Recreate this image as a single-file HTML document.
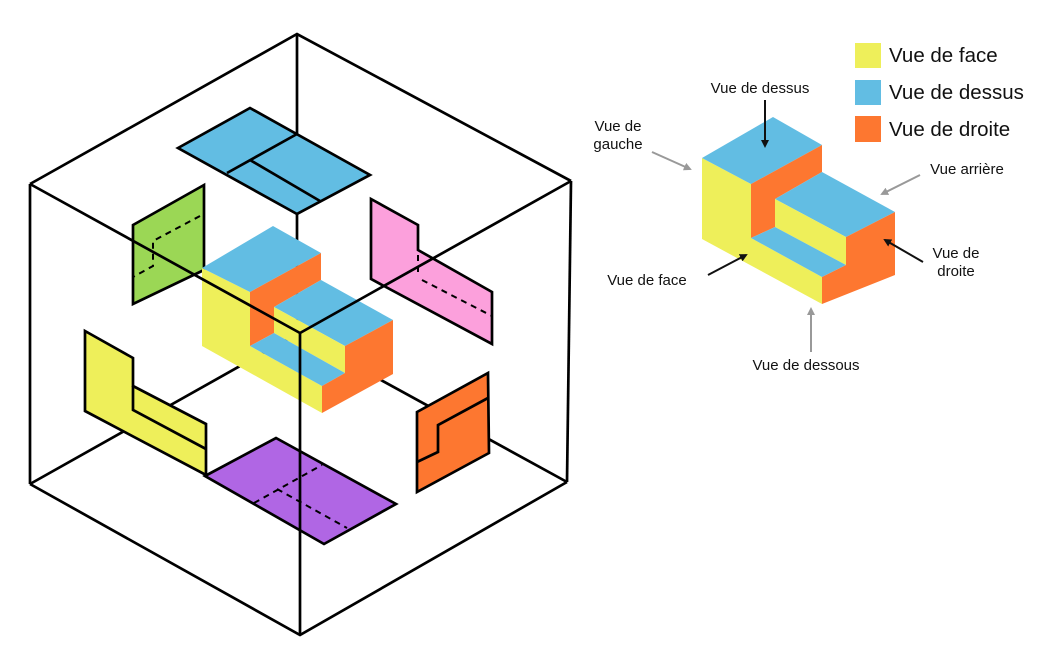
<!DOCTYPE html>
<html><head><meta charset="utf-8"><style>
html,body{margin:0;padding:0;background:#fff;}
svg{display:block;}
text{font-family:"Liberation Sans",sans-serif;fill:#111;}
</style></head><body>
<svg width="1060" height="646" viewBox="0 0 1060 646" xmlns="http://www.w3.org/2000/svg">
<defs>
<marker id="ab" markerWidth="8" markerHeight="8" refX="6" refY="4" orient="auto" markerUnits="userSpaceOnUse"><path d="M0,0 L8,4 L0,8 z" fill="#111"/></marker>
<marker id="ag" markerWidth="8" markerHeight="8" refX="6" refY="4" orient="auto" markerUnits="userSpaceOnUse"><path d="M0,0 L8,4 L0,8 z" fill="#999"/></marker>
</defs>
<g stroke="#000" stroke-width="2.7" fill="none" stroke-linejoin="miter">
<line x1="297" y1="34" x2="297" y2="334"/>
<line x1="30" y1="484" x2="297" y2="334"/>
<line x1="567" y1="482" x2="297" y2="334"/>
</g>
<g stroke="#000" stroke-width="2.7" stroke-linejoin="miter">
<polygon points="178,148 250,108 370,175 297,214" fill="#62bde3"/>
<line x1="297" y1="134" x2="227" y2="173"/>
<line x1="250" y1="160" x2="320" y2="201"/>
<polygon points="133,225 204,185 204,270 133,304" fill="#9bd755"/>
<polyline points="200,216 153,241 153,266 133,277" fill="none" stroke-dasharray="6,5" stroke-width="2"/>
<polygon points="371,199 418,225 418,250 492,292 492,344 371,279" fill="#fca0dc"/>
<polyline points="418,255 418,277" fill="none" stroke-dasharray="6,5" stroke-width="2"/>
<line x1="422" y1="280" x2="492" y2="316" stroke-dasharray="6,5" stroke-width="2"/>
<polygon points="85,331 133,358 133,386 206,424 206,475 85,411" fill="#eeef5a"/>
<polyline points="133,386 133,410 206,449" fill="none"/>
<polygon points="205,476 276,438 396,504 324,544" fill="#b066e4"/>
<line x1="254" y1="503" x2="322" y2="465" stroke-dasharray="6,5" stroke-width="2"/>
<line x1="277" y1="489" x2="347" y2="528" stroke-dasharray="6,5" stroke-width="2"/>
<polygon points="417,412 488,373 489,453 417,492" fill="#fd7730"/>
<polyline points="488,398 438,425 438,452 417,462" fill="none"/>
</g>
<g stroke="none">
<polygon points="202,268 250,292 250,346 322,386 322,413 202,346" fill="#eeef5a"/>
<polygon points="202,268 273,226 321,253 250,292" fill="#62bde3"/>
<polygon points="250,292 321,253 321,280 274,307 274,333 250,346" fill="#fd7730"/>
<polygon points="274,307 321,280 393,320 345,346" fill="#62bde3"/>
<polygon points="274,307 345,346 345,373 274,333" fill="#eeef5a"/>
<polygon points="250,346 274,333 345,373 322,386" fill="#62bde3"/>
<polygon points="345,346 393,320 393,374 322,413 322,386 345,373" fill="#fd7730"/>
</g>
<g stroke="#000" stroke-width="2.7" fill="none">
<polyline points="30,184 297,34 571,181"/>
<line x1="30" y1="184" x2="30" y2="484"/>
<line x1="571" y1="181" x2="567" y2="482"/>
<polyline points="30,484 300,635 567,482"/>
<line x1="30" y1="184" x2="300" y2="333"/>
<line x1="571" y1="181" x2="300" y2="333"/>
<line x1="300" y1="333" x2="300" y2="635"/>
</g>
<g stroke="none">
<polygon points="702,158 751,184 751,238 822,277 822,304 702,239" fill="#eeef5a"/>
<polygon points="702,158 773,117 822,145 751,184" fill="#62bde3"/>
<polygon points="751,184 822,145 822,172 775,199 775,227 751,238" fill="#fd7730"/>
<polygon points="775,199 822,172 895,212 846,237" fill="#62bde3"/>
<polygon points="775,199 846,237 846,265 775,227" fill="#eeef5a"/>
<polygon points="751,238 775,227 846,265 822,277" fill="#62bde3"/>
<polygon points="846,237 895,212 895,275 822,304 822,277 846,265" fill="#fd7730"/>
</g>
<rect x="855" y="43" width="26" height="25" fill="#eeef5a"/>
<rect x="855" y="80" width="26" height="25" fill="#62bde3"/>
<rect x="855" y="116" width="26" height="26" fill="#fd7730"/>
<text x="889" y="62" font-size="20.5">Vue de face</text>
<text x="889" y="99" font-size="20.5">Vue de dessus</text>
<text x="889" y="136" font-size="20.5">Vue de droite</text>
<g font-size="15">
<text x="760" y="93" text-anchor="middle">Vue de dessus</text>
<text x="618" y="131" text-anchor="middle">Vue de</text>
<text x="618" y="149" text-anchor="middle">gauche</text>
<text x="967" y="174" text-anchor="middle">Vue arrière</text>
<text x="956" y="258" text-anchor="middle">Vue de</text>
<text x="956" y="276" text-anchor="middle">droite</text>
<text x="647" y="285" text-anchor="middle">Vue de face</text>
<text x="806" y="370" text-anchor="middle">Vue de dessous</text>
</g>
<g stroke-width="2">
<line x1="765" y1="100" x2="765" y2="146" stroke="#111" marker-end="url(#ab)"/>
<line x1="652" y1="152" x2="690" y2="169" stroke="#999" marker-end="url(#ag)"/>
<line x1="920" y1="175" x2="882" y2="194" stroke="#999" marker-end="url(#ag)"/>
<line x1="923" y1="262" x2="885" y2="240" stroke="#111" marker-end="url(#ab)"/>
<line x1="708" y1="275" x2="746" y2="255" stroke="#111" marker-end="url(#ab)"/>
<line x1="811" y1="352" x2="811" y2="309" stroke="#999" marker-end="url(#ag)"/>
</g>
</svg>
</body></html>
